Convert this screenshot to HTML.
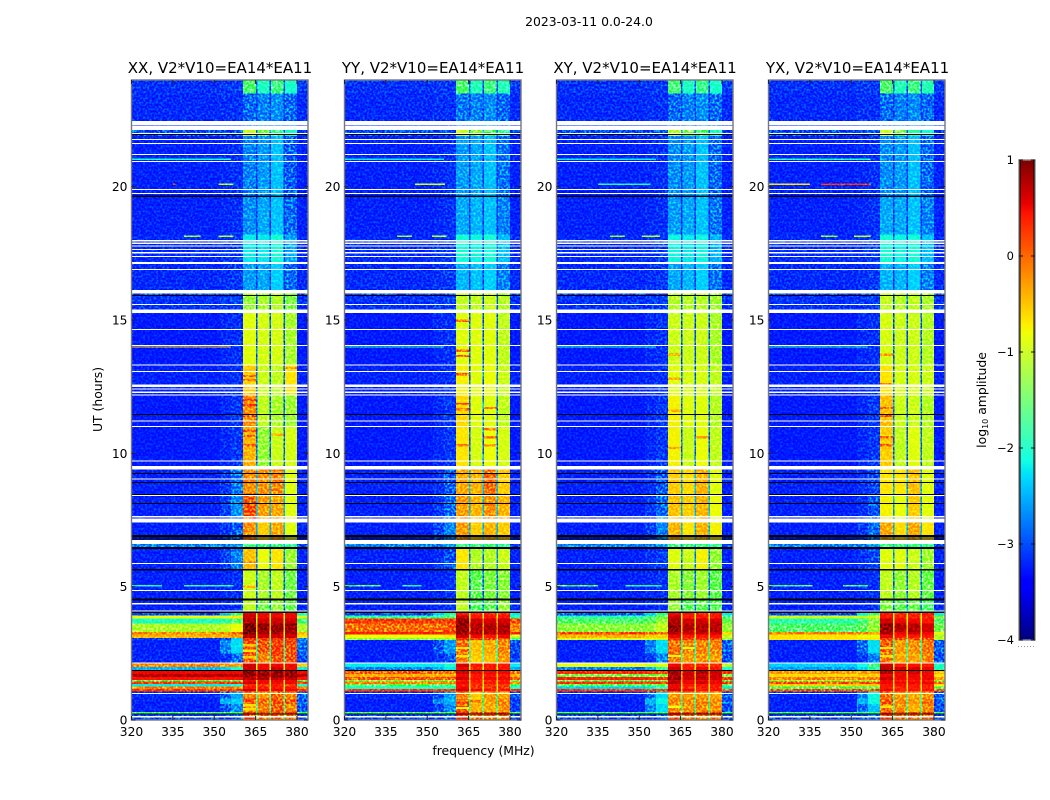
<!DOCTYPE html>
<html lang="en">
<head>
<meta charset="utf-8">
<title>2023-03-11 0.0-24.0</title>
<style>
html,body{margin:0;padding:0;background:#fff;}
svg{display:block;font-family:"DejaVu Sans","Liberation Sans",sans-serif;fill:#000;}
.tick{font-size:12.3px;}
.title{font-size:15px;text-anchor:middle;}
.label{font-size:12.4px;text-anchor:middle;}
</style>
</head>
<body>
<svg id="figure" xmlns="http://www.w3.org/2000/svg" width="1050" height="800" viewBox="0 0 1050 800">
  <defs>
    <filter id="speckle" x="0" y="0" width="100%" height="100%" color-interpolation-filters="sRGB">
      <feTurbulence type="fractalNoise" baseFrequency="0.46" numOctaves="1" seed="7"/>
      <feColorMatrix type="matrix" values="3.4 0 0 0 -1.4  3.4 0 0 0 -1.4  3.4 0 0 0 -1.4  0 0 0 0 1"/>
    </filter>
  </defs>
  <text x="589" y="26" font-size="12.4" text-anchor="middle">2023-03-11 0.0-24.0</text>
  <text class="title" x="220" y="73">XX, V2*V10=EA14*EA11</text>
  <text class="title" x="433" y="73">YY, V2*V10=EA14*EA11</text>
  <text class="title" x="645" y="73">XY, V2*V10=EA14*EA11</text>
  <text class="title" x="857.5" y="73">YX, V2*V10=EA14*EA11</text>
  <text class="label" transform="translate(102,399.5) rotate(-90)">UT (hours)</text>
  <text class="label" x="483.5" y="755">frequency (MHz)</text>
  <text class="label" transform="translate(986,400) rotate(-90)">log<tspan font-size="8" dy="2">10</tspan><tspan dy="-2"> amplitude</tspan></text>
  <g id="panels"></g>
  <g id="colorbar"></g>
</svg>
<script>
// Hour edges of the time bands (bottom to top) and frequency edges in MHz.
const utEdges = [0,.25,.3,.6,.8,1.06,1.16,1.25,1.35,1.44,1.5,1.62,1.72,1.83,1.99,2.13,2.5,3,3.08,3.2,3.3,3.62,3.81,3.92,4.02,4.5,5.6,6.41,6.6,7.4,8.5,9.44,11,12.2,13.3,15.3,15.94,16.13,17.1,18.2,19.6,21.9,22.13,23.5,24];
const freqEdges = [320,352,356,360.5,365.1,365.7,370,370.6,375.1,375.7,380,384];
// Each row: left, slope1, slope2, band1, band2, band3, band4, gap, right (log10 amplitude)
const channelOrder = [0,1,2,3,7,4,7,5,7,6,8];
const xxValues = [
[-2.9,-2.9,-2.7,-.1,-.2,-.2,-.2,-1.6,-2.9],[-1.6,-1.6,-1.6,.2,.1,.1,.1,-1.4,-1.6],[-3.15,-2.85,-2.55,-.2,-.3,-.1,-.3,-1.8,-2.8],[-3.15,-2.4,-2.3,0,-.2,-.05,-.15,-1.7,-2.75],[-3.1,-2.75,-2.45,-.3,-.4,-.2,-.3,-1.8,-2.7],
[.1,.1,.1,.6,.5,.5,.5,-.8,.1],[-.3,-.3,-.3,.4,.3,.4,.3,-.9,-.3],[-2.2,-2.2,-2.1,.3,.2,.3,.2,-1.2,-2.1],[.1,.1,.1,.6,.5,.5,.5,-.7,.1],[-1.5,-1.5,-1.5,.5,.5,.5,.5,-.9,-1.5],
[.45,.45,.45,.7,.7,.7,.7,.1,.45],[.7,.7,.7,.8,.8,.8,.8,.4,.7],[.5,.5,.5,.8,.8,.8,.8,.3,.5],[-2.4,-2.3,-2.1,.6,.5,.6,.5,-.9,-2.2],[-.3,-.4,-.4,.6,.5,.5,.5,-.8,-.6],
[-3.15,-3,-2.7,-.1,-.3,0,-.1,-1.9,-2.85],[-3.15,-2.6,-2.25,0,-.1,.1,-.05,-1.9,-2.7],[-3,-2.8,-2.3,.2,.1,.2,.1,-1.8,-2.6],[-.5,-.5,-.4,.7,.6,.6,.6,-.8,-.7],[-.3,-.3,-.2,.9,.7,.7,.7,-.8,-.5],
[-1.1,-1,-.8,.9,.8,.8,.8,-.6,-1.1],[-2,-1.9,-1.6,.7,.6,.6,.6,-1,-1.7],[-.8,-.8,-.7,.6,.5,.5,.5,-.8,-.9],[-2.9,-2.4,-1.8,.6,.5,.5,.5,-1.2,-2],
[-3.15,-3.1,-3,-1,-1.35,-1.2,-1.4,-2.7,-3.1],[-3.15,-3.1,-3.05,-.95,-1.1,-1,-1.35,-2.7,-3.15],[-3.15,-2.95,-2.6,-.55,-.8,-.7,-1.15,-2.6,-3.15],[-2.6,-2.6,-2.5,-1.7,-1.7,-1.7,-1.8,-2.4,-2.9],[-3.15,-3,-2.75,-.35,-.6,-.45,-.85,-2.4,-3.15],[-3.15,-2.95,-2.55,-.05,-.4,-.45,-.85,-2.4,-3.15],
[-3.15,-3,-2.65,-.35,-.35,-.3,-.85,-2.4,-3.15],[-3.2,-3.1,-3,-.5,-1.2,-.95,-.9,-2.7,-3.2],[-3.2,-3.1,-3,-.35,-1,-1.1,-1.15,-2.7,-3.2],[-3.15,-3.1,-3.05,-.6,-.95,-1,-.7,-2.7,-3.15],[-3.2,-3.1,-3.05,-.85,-.9,-.9,-1.1,-2.8,-3.2],
[-3.05,-3,-2.95,-1.2,-1.1,-1.05,-1.3,-2.8,-3.05],[-2.9,-2.9,-2.9,-1,-1.1,-1,-1.2,-2.6,-2.9],[-3.1,-3.05,-3,-2.5,-2.45,-2.3,-2.7,-3,-3.1],[-3.1,-3.05,-3,-2.2,-2.2,-2.1,-2.45,-2.9,-3.1],[-3.15,-3.1,-3.05,-2.55,-2.45,-2.35,-2.7,-3,-3.15],
[-3.15,-3.1,-3.05,-2.6,-2.5,-2.35,-2.75,-3,-3.15],[-2.85,-2.85,-2.85,-.95,-1.3,-1.75,-2.05,-2.6,-3],[-3.1,-3.05,-3.05,-2.7,-2.6,-2.55,-2.7,-2.95,-3.1],[-3.05,-3,-3,-1.6,-2,-1.7,-2.05,-2.8,-3]
];
const yyValues = [
[-2.9,-2.9,-2.7,.2,-.2,-.2,-.2,-1.6,-2.9],[-1.6,-1.6,-1.6,.2,.1,.1,.1,-1.4,-1.6],[-3.15,-2.9,-2.6,-.15,-.5,-.45,-.35,-1.7,-2.95],[-3.15,-2.6,-2.4,-.1,-.55,-.4,-.3,-1.7,-2.95],[-3.1,-2.8,-2.5,-.3,-.6,-.4,-.45,-1.7,-2.85],
[.1,.1,.1,.6,.5,.4,.4,-.6,.05],[-2.1,-2.1,-2,.5,.2,.2,.2,-.9,-2.1],[-1.5,-1.5,-1.5,.4,.2,.2,.2,-.9,-1.6],[-.3,-.3,-.3,.5,.4,.4,.4,-.6,-.4],[-1.3,-1.3,-1.3,.4,.3,.3,.3,-.7,-1.4],
[-.1,-.1,-.1,.6,.4,.5,.5,-.5,-.15],[-.5,-.5,-.5,.5,.4,.4,.4,-.6,-.5],[-.1,-.2,-.2,.6,.5,.5,.5,-.4,-.2],[-2.6,-2.4,-2.2,.5,.3,.4,.4,-.9,-2.4],[-2.2,-2.2,-2,.6,.4,.4,.4,-1,-2.2],
[-3.15,-3.05,-2.8,-.3,-.6,-.55,-.4,-1.9,-2.95],[-3.15,-2.8,-2.5,-.2,-.55,-.45,-.3,-1.9,-2.85],[-1.2,-1.2,-1.2,.2,0,0,0,-1.6,-1.6],[-.8,-.8,-.7,.6,.5,.4,.5,-.7,-1],[.35,.35,.3,.8,.7,.7,.7,-.1,.2],
[-.2,-.2,-.1,.8,.7,.7,.7,-.3,-.3],[.1,.1,.1,.8,.6,.6,.6,-.4,0],[-1.8,-1.8,-1.6,.6,.4,.4,.4,-.8,-1.9],[-2.9,-2.3,-1.9,.4,.3,.3,.3,-1.2,-2.2],
[-3.15,-3.1,-3.05,-1,-1.55,-1.45,-1.2,-2.7,-3.1],[-3.15,-3.1,-3.05,-1,-1.45,-1.3,-1.25,-2.7,-3.15],[-3.15,-3.05,-2.85,-.7,-1.05,-1.05,-.95,-2.6,-3.15],[-2.6,-2.6,-2.5,-1.7,-1.7,-1.7,-1.8,-2.4,-2.9],[-3.15,-2.9,-2.6,-.4,-.6,-.5,-.6,-2.4,-3.15],[-3.15,-3,-2.7,-.4,-.5,-.35,-.5,-2.4,-3.15],
[-3.15,-3.05,-2.75,-.45,-.5,-.2,-.6,-2.4,-3.15],[-3.2,-3.1,-3,-.7,-.9,-.8,-.9,-2.7,-3.2],[-3.2,-3.1,-3,-.65,-.85,-.85,-1,-2.7,-3.2],[-3.15,-3.1,-3.05,-.75,-.85,-.8,-.95,-2.7,-3.15],[-3.2,-3.1,-3.05,-.85,-.85,-.85,-1,-2.8,-3.2],
[-3.05,-3,-2.95,-1,-1,-.95,-1.05,-2.8,-3.05],[-2.9,-2.9,-2.9,-.9,-1,-.95,-1.1,-2.6,-2.9],[-3.1,-3.05,-3,-2.4,-2.35,-2.3,-2.6,-3,-3.1],[-3.1,-3.05,-3,-2.1,-2.15,-2.1,-2.35,-2.9,-3.1],[-3.15,-3.1,-3.05,-2.45,-2.4,-2.35,-2.6,-3,-3.15],
[-3.15,-3.1,-3.05,-2.5,-2.45,-2.35,-2.65,-3,-3.15],[-2.85,-2.85,-2.85,-.95,-1.25,-1.55,-1.85,-2.6,-3],[-3.1,-3.05,-3.05,-2.65,-2.6,-2.55,-2.7,-2.95,-3.1],[-3.05,-3,-3,-1.6,-1.95,-1.7,-1.95,-2.8,-3]
];
const xyValues = [
[-2.9,-2.9,-2.7,.1,-.2,-.2,-.2,-1.7,-2.9],[-1.7,-1.7,-1.7,.1,.1,.1,.1,-1.5,-1.7],[-3.15,-2.6,-2.25,-.3,-.35,-.3,-.35,-1.8,-2.85],[-3.15,-2.4,-2.15,-.3,-.3,-.3,-.35,-1.8,-2.75],[-3.1,-2.7,-2.25,-.4,-.4,-.4,-.45,-1.8,-2.75],
[.15,.1,.05,.6,.5,.4,.4,-.6,-.1],[-2.3,-2.2,-2,.5,.3,.3,.3,-1,-2.2],[-1.5,-1.5,-1.4,.5,.4,.4,.4,-.7,-1.5],[.2,.2,.1,.7,.5,.6,.5,-.5,.1],[-1.5,-1.5,-1.4,.6,.5,.5,.5,-.6,-1.5],
[.3,.2,.1,.8,.6,.7,.6,-.4,.1],[-1.4,-1.4,-1.3,.7,.6,.6,.6,-.5,-1.4],[.25,.2,.1,.8,.6,.7,.6,-.4,.1],[-2.6,-2.4,-1.9,.6,.4,.5,.4,-.8,-2.1],[-.8,-.9,-.8,.5,.3,.3,.3,-.9,-1],
[-3.15,-3,-2.6,-.25,-.4,-.35,-.4,-1.8,-2.85],[-3.15,-2.6,-2.25,-.2,-.3,-.3,-.3,-1.9,-2.75],[-.9,-.9,-.9,.2,.1,.1,.1,-1.6,-1.2],[-.5,-.6,-.6,.5,.4,.4,.4,-.9,-1],[0,-.1,-.2,.7,.6,.6,.6,-.5,-.6],
[-1.25,-1.2,-1,.8,.7,.7,.7,-.6,-1.2],[-1.6,-1.5,-1.2,.7,.6,.6,.6,-.7,-1.4],[-1.9,-1.7,-1.4,.6,.4,.4,.4,-.8,-1.7],[-2.8,-2.3,-1.8,.5,.4,.3,.4,-1,-2.2],
[-3.15,-3.1,-3.05,-1.2,-1.5,-1.45,-1.5,-2.7,-3.1],[-3.15,-3.1,-3.05,-1.1,-1.25,-1.15,-1.45,-2.7,-3.15],[-3.15,-3.05,-2.95,-.85,-.95,-.75,-1.2,-2.6,-3.15],[-2.6,-2.6,-2.5,-1.7,-1.7,-1.7,-1.8,-2.4,-2.9],[-3.15,-2.95,-2.6,-.5,-.7,-.5,-.75,-2.4,-3.15],[-3.15,-3,-2.7,-.55,-.6,-.5,-.8,-2.4,-3.15],
[-3.15,-3.05,-2.8,-.6,-.65,-.5,-.85,-2.4,-3.15],[-3.2,-3.1,-3,-.75,-.95,-.8,-1,-2.7,-3.2],[-3.2,-3.1,-3,-.75,-.85,-.85,-1.05,-2.7,-3.2],[-3.15,-3.1,-3.05,-.85,-.9,-.9,-1,-2.7,-3.15],[-3.2,-3.1,-3.05,-.95,-.95,-.95,-1.1,-2.8,-3.2],
[-3.05,-3,-2.95,-1.05,-1.05,-1.05,-1.15,-2.8,-3.05],[-2.9,-2.9,-2.9,-1,-1,-1,-1.15,-2.6,-2.9],[-3.1,-3.05,-3,-2.45,-2.4,-2.3,-2.65,-3,-3.1],[-3.1,-3.05,-3,-2.15,-2.2,-2.15,-2.4,-2.9,-3.1],[-3.15,-3.1,-3.05,-2.5,-2.45,-2.35,-2.65,-3,-3.15],
[-3.15,-3.1,-3.05,-2.55,-2.5,-2.35,-2.7,-3,-3.15],[-2.85,-2.85,-2.85,-1.05,-1.35,-1.6,-2,-2.6,-3],[-3.1,-3.05,-3.05,-2.7,-2.6,-2.55,-2.7,-2.95,-3.1],[-3.05,-3,-3,-1.65,-2,-1.75,-2.05,-2.8,-3]
];
const yxValues = [
[-2.9,-2.9,-2.7,.1,-.2,-.2,-.2,-1.7,-2.9],[-1.7,-1.7,-1.7,.1,.1,.1,.1,-1.5,-1.7],[-3.15,-2.7,-2.35,-.15,-.35,-.5,-.3,-1.8,-2.85],[-3.15,-2.4,-2.15,-.1,-.35,-.4,-.25,-1.8,-2.75],[-3.1,-2.6,-2.15,-.2,-.4,-.45,-.35,-1.8,-2.75],
[-.1,-.1,-.1,.5,.4,.4,.4,-.6,-.2],[-1.6,-1.6,-1.5,.4,.3,.3,.3,-.9,-1.6],[-.6,-.6,-.6,.4,.4,.4,.4,-.7,-.7],[-.1,-.1,-.1,.5,.5,.5,.5,-.6,-.2],[-1.2,-1.2,-1.2,.5,.4,.4,.4,-.7,-1.3],
[-.3,-.3,-.3,.6,.5,.5,.5,-.5,-.4],[-.65,-.6,-.6,.5,.5,.5,.5,-.6,-.7],[-.4,-.4,-.4,.7,.5,.6,.5,-.5,-.5],[-2.5,-2.3,-1.9,.7,.6,.6,.5,-.7,-2],[-2.3,-2.1,-1.7,.6,.4,.4,.4,-.9,-2],
[-3.15,-3,-2.6,-.25,-.45,-.45,-.3,-1.8,-2.85],[-3.15,-2.7,-2.25,-.15,-.4,-.35,-.25,-1.9,-2.75],[-.7,-.7,-.7,.1,0,0,0,-1.5,-1],[-.7,-.8,-.8,.5,.4,.4,.4,-.9,-1.1],[-.3,-.3,-.4,.7,.5,.6,.5,-.6,-.8],
[-1.6,-1.5,-1.2,.8,.7,.7,.6,-.6,-1.4],[-1.9,-1.7,-1.3,.6,.5,.5,.4,-.8,-1.6],[-.95,-.95,-.9,.4,.3,.3,.3,-.9,-1.3],[-2.9,-2.2,-1.7,.4,.3,.3,.4,-1.1,-2.2],
[-3.15,-3.1,-3.05,-1.3,-1.45,-1.4,-1.6,-2.7,-3.1],[-3.15,-3.1,-3.05,-1,-1.2,-1.05,-1.4,-2.7,-3.15],[-3.15,-3.05,-2.9,-.85,-.85,-.95,-1.15,-2.6,-3.15],[-2.6,-2.6,-2.5,-1.7,-1.7,-1.7,-1.8,-2.4,-2.9],[-3.15,-3,-2.7,-.45,-.65,-.45,-.7,-2.4,-3.15],[-3.15,-3.05,-2.8,-.75,-.8,-.6,-.85,-2.5,-3.15],
[-3.15,-3.05,-2.9,-.7,-.7,-.55,-.85,-2.5,-3.15],[-3.2,-3.1,-3,-.6,-1,-.85,-1,-2.7,-3.2],[-3.2,-3.1,-3,-.55,-.95,-.95,-1.05,-2.7,-3.2],[-3.15,-3.1,-3.05,-.7,-.9,-.9,-.95,-2.7,-3.15],[-3.2,-3.1,-3.05,-.9,-.95,-.95,-1.05,-2.8,-3.2],
[-3.05,-3,-2.95,-1,-1.05,-1,-1.1,-2.8,-3.05],[-2.9,-2.9,-2.9,-.9,-1,-1,-1.1,-2.6,-2.9],[-3.1,-3.05,-3,-2.4,-2.4,-2.3,-2.6,-3,-3.1],[-3.1,-3.05,-3,-2.1,-2.15,-2.1,-2.35,-2.9,-3.1],[-3.15,-3.1,-3.05,-2.45,-2.45,-2.35,-2.6,-3,-3.15],
[-3.15,-3.1,-3.05,-2.55,-2.5,-2.35,-2.7,-3,-3.15],[-2.85,-2.85,-2.85,-.95,-1.35,-1.9,-2.1,-2.6,-3],[-3.1,-3.05,-3.05,-2.7,-2.6,-2.55,-2.7,-2.95,-3.1],[-3.05,-3,-3,-1.6,-1.95,-1.7,-1.95,-2.8,-3]
];
// Narrow interference: hour, first MHz, last MHz, log10 amplitude.
const xxLines = [[21.03,320,356,-2.1],[20.09,351.5,357,-1],[20.09,335,336,-.2],[18.14,339,345,-1.2],[18.14,351.5,357,-1],[13.99,320,356,-.6],[5.04,320,331,-2],[5.04,339,357,-1.9]];
const yyLines = [[21.03,320,356,-2.2],[20.09,345.5,356.5,-.9],[18.14,339,344.5,-1.2],[18.14,351.7,357,-1],[13.99,320,356,-1.9],[5.04,320,333,-1.6],[5.04,341,348,-2]];
const xyLines = [[21.03,320,356,-2.2],[20.09,335,354,-2],[18.14,339.4,344.8,-1.2],[18.14,351,357.5,-1],[13.99,320,356,-2],[5.04,320,335,-1.5],[5.04,345,358,-1.9]];
const yxLines = [[21.03,320,357,-2],[20.09,320,335,-.7],[20.09,339,357,.1],[18.14,339,345,-1.2],[18.14,351,357,-1],[13.99,320,356,-1.9],[5.04,320,336,-1.7],[5.04,347,356,-1.7]];
// Hotter or cooler single-channel stripes inside the receiver bands.
const xxStripes = [[13.2,375.7,380,-.4],[12.9,360.5,365.1,-.2],[12.75,360.5,365.1,-.3],[12,360.5,365.1,0],[11.8,360.5,365.1,-.05],[11.4,360.5,365.1,-.1],[10.85,360.5,365.1,-.15],[10.65,360.5,365.1,-.2],[10.3,360.5,365.1,-.2],[10.7,370.6,375.1,-.5],[5.9,360.5,365.1,-.3],[5,360.5,365.1,-.5],[.4,360.5,365.1,-.7],[.55,360.5,365.1,-.7],[2.35,360.5,365.1,-.6],[2.6,360.5,365.1,-.7],[2.8,360.5,365.1,-.6]];
const yyStripes = [[14.97,360.5,365.1,-.2],[13.85,360.5,365.1,-.2],[13.65,360.5,365.1,-.2],[12.96,360.5,365.1,-.1],[11.85,360.5,365.1,-.15],[11.65,360.5,365.1,-.2],[10.3,360.5,365.1,-.3],[10.9,370.6,375.1,-.3],[10.6,370.6,375.1,-.3],[10.3,370.6,375.1,-.4],[11.7,370.6,375.1,-.3],[.45,360.5,365.1,-.8],[.7,365.7,370,-.2],[2.4,360.5,365.1,-.7],[2.7,360.5,365.1,-.7]];
const xyStripes = [[13.7,360.5,365.1,-.4],[12.8,360.5,365.1,-.5],[11.6,360.5,365.1,-.5],[10.6,370.6,375.1,-.4],[10.2,360.5,365.1,-.4],[.5,360.5,365.1,-.8],[2.4,360.5,365.1,-.8],[2.7,365.7,370,-.8]];
const yxStripes = [[13.7,360.5,365.1,-.4],[12.6,360.5,365.1,-.3],[11.7,360.5,365.1,-.2],[11.4,360.5,365.1,-.1],[10.6,360.5,365.1,-.2],[10.3,360.5,365.1,-.2],[.5,360.5,365.1,-.7],[2.4,360.5,365.1,-.7],[2.7,360.5,365.1,-.7]];
// Flagged time ranges, in hours, shared by all polarisations.
const whiteFlags = [[.09,.15],[.99,1.02],[2.13,2.16],[4.07,4.11],[4.34,4.38],[4.84,4.88],[5.85,5.89],[6.6,6.75],[7.4,7.56],[7.6,7.65],[8.4,8.44],[9.03,9.06],[9.4,9.53],[9.7,9.74],[10.99,11.03],[11.2,11.24],[12.16,12.2],[12.27,12.31],[12.4,12.44],[12.48,12.59],[13.06,13.09],[13.3,13.33],[14.03,14.06],[14.63,14.66],[15.26,15.4],[15.56,15.6],[16,16.13],[16.88,16.91],[17.1,17.18],[17.36,17.4],[17.5,17.55],[17.64,17.67],[17.75,17.79],[17.85,17.9],[17.95,18],[19.74,19.77],[19.88,19.91],[20.93,20.96],[21.18,21.22],[21.6,21.64],[21.75,21.78],[21.99,22.02],[22.13,22.29],[22.32,22.47]];
const blackFlags = [[.21,.25],[1.83,1.87],[4.02,4.06],[4.49,4.56],[5.61,5.66],[6.41,6.48],[6.78,6.81],[6.85,6.93],[8.11,8.14],[8.45,8.48],[8.9,8.93],[9.24,9.26],[11.45,11.47],[15.91,15.94],[19.61,19.66],[21.93,21.98]];
const xTickValues = [320,335,350,365,380];
const yTickValues = [0,5,10,15,20];
const colorbarTicks = [1,0,-1,-2,-3,-4];
const panelNames = ['xx','yy','xy','yx'];
const panelLefts = [131.5,344.5,556.5,768.5];
const panelValues = [xxValues,yyValues,xyValues,yxValues];
const panelLines = [xxLines,yyLines,xyLines,yxLines];
const panelStripes = [xxStripes,yyStripes,xyStripes,yxStripes];

const NS = 'http://www.w3.org/2000/svg';
const plotW = 176.5, plotTop = 80, plotBottom = 720;
const xScale = (left, f) => left + (f - 320) * plotW / 64;
const yScale = h => plotBottom - h * (plotBottom - plotTop) / 24;
const ramp = (t, pts) => {
  for (let i = 1; i < pts.length; i++) {
    if (t <= pts[i][0]) {
      const a = pts[i-1], b = pts[i];
      return a[1] + (b[1]-a[1]) * (t-a[0]) / (b[0]-a[0]);
    }
  }
  return pts[pts.length-1][1];
};
const jet = v => {
  const t = Math.max(0, Math.min(1, (v + 4) / 5));
  const r = ramp(t, [[0,0],[.35,0],[.66,1],[.89,1],[1,.5]]);
  const g = ramp(t, [[0,0],[.125,0],[.375,1],[.64,1],[.91,0],[1,0]]);
  const b = ramp(t, [[0,.5],[.11,1],[.34,1],[.65,0],[1,0]]);
  return 'rgb(' + Math.round(r*255) + ',' + Math.round(g*255) + ',' + Math.round(b*255) + ')';
};
const make = (parent, tag, attrs, text) => {
  const el = document.createElementNS(NS, tag);
  for (const k in attrs) el.setAttribute(k, attrs[k]);
  if (text !== undefined) el.textContent = text;
  parent.appendChild(el);
  return el;
};

const panelsRoot = document.getElementById('panels');
panelNames.forEach((name, p) => {
  const left = panelLefts[p];
  const right = left + plotW;
  const g = make(panelsRoot, 'g', {});
  
  
  const heat = make(g, 'g', {'shape-rendering': 'crispEdges'});
  
  
  panelValues[p].forEach((row, r) => {
    channelOrder.forEach((src, c) => {
      const cell = make(heat, 'rect', {
        x: xScale(left, freqEdges[c]),
        y: yScale(utEdges[r+1]),
        width: xScale(left, freqEdges[c+1]) - xScale(left, freqEdges[c]),
        height: yScale(utEdges[r]) - yScale(utEdges[r+1]),
        fill: jet(row[src])
      });
      
      
    });
  });
  panelStripes[p].forEach(s => {
    const mark = make(heat, 'rect', {
      x: xScale(left, s[1]),
      y: yScale(s[0]) - 1.2,
      width: xScale(left, s[2]) - xScale(left, s[1]),
      height: 2.4,
      fill: jet(s[3])
    });
    
    
  });
  panelLines[p].forEach(line => {
    const mark = make(heat, 'rect', {
      x: xScale(left, line[1]),
      y: yScale(line[0]) - 0.6,
      width: xScale(left, line[2]) - xScale(left, line[1]),
      height: 1.3,
      fill: jet(line[3])
    });
    
    
  });
  const grain = make(g, 'rect', {x: left, y: plotTop, width: plotW, height: plotBottom - plotTop, filter: 'url(#speckle)', opacity: 0.8, style: 'mix-blend-mode:overlay'});
  
  
  whiteFlags.forEach(f => {
    const flag = make(g, 'rect', {x: left, y: yScale(f[1]), width: plotW, height: Math.max(1, yScale(f[0]) - yScale(f[1])), fill: '#fff', 'shape-rendering': 'crispEdges'});
    
    
  });
  blackFlags.forEach(f => {
    const flag = make(g, 'rect', {x: left, y: yScale(f[1]), width: plotW, height: Math.max(1, yScale(f[0]) - yScale(f[1])), fill: '#000', 'shape-rendering': 'crispEdges'});
    
    
  });
  const frame = make(g, 'rect', {x: left, y: plotTop, width: plotW, height: plotBottom - plotTop, fill: 'none', stroke: '#777', 'stroke-width': 1.4});
  
  
  xTickValues.forEach(v => {
    const tx = xScale(left, v);
    const tb = make(g, 'line', {x1: tx, x2: tx, y1: plotBottom, y2: plotBottom - 4, stroke: '#222'});
    
    
    const tt = make(g, 'line', {x1: tx, x2: tx, y1: plotTop, y2: plotTop + 4, stroke: '#222'});
    
    
    const lab = make(g, 'text', {class: 'tick', x: tx, y: 736, 'text-anchor': 'middle'}, String(v));
    
    
  });
  yTickValues.forEach(v => {
    const ty = yScale(v);
    const tl = make(g, 'line', {x1: left, x2: left + 4, y1: ty, y2: ty, stroke: '#222'});
    
    
    const tr = make(g, 'line', {x1: right, x2: right - 4, y1: ty, y2: ty, stroke: '#222'});
    
    
    const lab = make(g, 'text', {class: 'tick', x: left - 4, y: ty + 4.5, 'text-anchor': 'end'}, String(v));
    
    
  });
});

const cbRoot = document.getElementById('colorbar');
const cbLeft = 1019, cbWidth = 16, cbTop = 160, cbBottom = 640;
const cbScale = v => cbBottom - (v + 4) * (cbBottom - cbTop) / 5;
for (let i = 0; i < 240; i++) {
  const lo = -4 + 5 * i / 240, hi = -4 + 5 * (i + 1) / 240;
  const strip = make(cbRoot, 'rect', {x: cbLeft, y: cbScale(hi), width: cbWidth, height: cbScale(lo) - cbScale(hi) + 0.3, fill: jet((lo + hi) / 2), 'shape-rendering': 'crispEdges'});
  
  
}
const cbFrame = make(cbRoot, 'rect', {x: cbLeft, y: cbTop, width: cbWidth, height: cbBottom - cbTop, fill: 'none', stroke: '#888', 'stroke-width': 1.4});


[cbLeft + 1, cbLeft + cbWidth - 1].forEach(x => {
  const edge = make(cbRoot, 'line', {x1: x, x2: x, y1: cbTop, y2: cbBottom, stroke: '#000', 'stroke-width': 1});
  
  
});
colorbarTicks.forEach(v => {
  const y = cbScale(v);
  const a = make(cbRoot, 'line', {x1: cbLeft, x2: cbLeft + 4, y1: y, y2: y, stroke: '#111'});
  
  
  const b = make(cbRoot, 'line', {x1: cbLeft + cbWidth, x2: cbLeft + cbWidth - 4, y1: y, y2: y, stroke: '#111'});
  
  
  const lab = make(cbRoot, 'text', {x: cbLeft - 5, y: y + 4, 'text-anchor': 'end', 'font-size': 11.5}, (v < 0 ? '\u2212' : '') + Math.abs(v));
  
  
});
const dots = make(cbRoot, 'line', {x1: cbLeft - 1, x2: cbLeft + cbWidth, y1: 646.5, y2: 646.5, stroke: '#999', 'stroke-dasharray': '1 2'});


</script>
</body>
</html>
